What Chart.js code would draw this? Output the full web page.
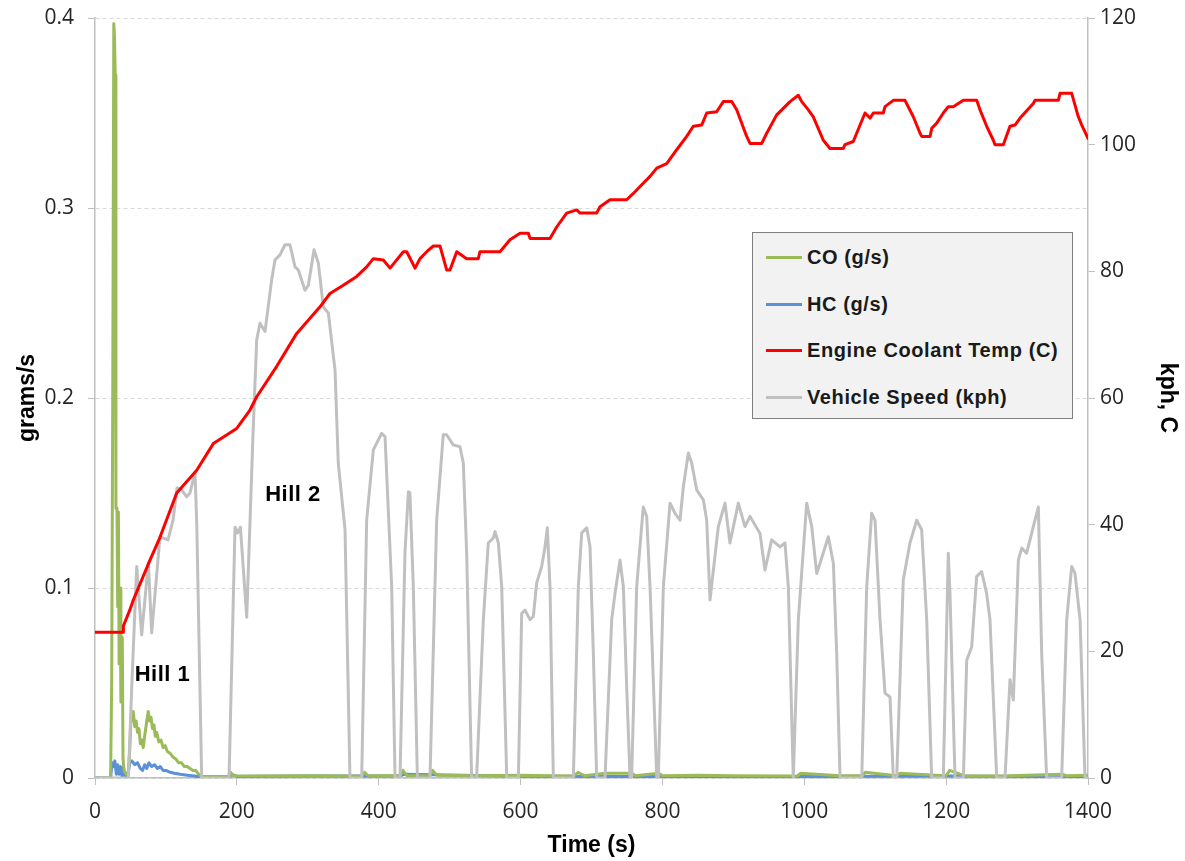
<!DOCTYPE html>
<html>
<head>
<meta charset="utf-8">
<script src="https://cdn.jsdelivr.net/npm/chart.js@4/dist/chart.umd.min.js"></script>
<style>
html,body{margin:0;padding:0;background:#fff;}
#wrap{position:relative;width:1185px;height:861px;}
#legend{position:absolute;left:752px;top:232px;width:321px;height:187px;background:#f2f2f2;border:1px solid #7f7f7f;box-sizing:border-box;font-family:"Liberation Sans",Arial,sans-serif;font-weight:bold;font-size:20px;letter-spacing:0.6px;color:#1a1a1a;}
.item{position:absolute;left:13px;height:22px;display:flex;align-items:center;}
.swatch{width:36px;height:3px;margin-right:5px;}
</style>
</head>
<body>
<div id="wrap">
<canvas id="c" width="1185" height="861"></canvas>
<div id="legend"></div>
</div>
<script>
// ---- Data ----
const seriesLabels = ["CO (g/s)", "HC (g/s)", "Engine Coolant Temp (C)", "Vehicle Speed (kph)"];
const xTicks = [0, 200, 400, 600, 800, 1000, 1200, 1400];
const yTicks = [0, 0.1, 0.2, 0.3, 0.4];
const y2Ticks = [0, 20, 40, 60, 80, 100, 120];

const coTime = [0,22,23.5,25,26.5,27.5,28.5,29.5,31,32,33,34,35.5,36.5,37.5,38.5,39.5,41,44,47,49,51,53,54,56,58,60,62,64,66,68,70,73,75,77,79,81,83,85,87,90,93,96,99,102,106,110,114,118,122,126,130,134,138,142,146,150,188,191,195,210,300,376,380,385,430,434,440,470,476,482,540,600,640,675,681,690,720,757,762,795,800,850,900,990,995,1050,1082,1086,1130,1135,1197,1200,1205,1225,1285,1290,1363,1370,1400];
const coVal  = [0,0,0.05,0.2,0.397,0.39,0.37,0.142,0.142,0.09,0.14,0.06,0.1,0.04,0.074,0.074,0.01,0.004,0.002,0.003,0.015,0.034,0.03,0.035,0.027,0.03,0.024,0.026,0.018,0.02,0.016,0.022,0.03,0.035,0.03,0.032,0.026,0.028,0.022,0.024,0.019,0.02,0.016,0.017,0.014,0.013,0.011,0.01,0.008,0.008,0.006,0.006,0.005,0.004,0.004,0.002,0.0008,0.0008,0.003,0.0012,0.001,0.0012,0.001,0.003,0.0012,0.0012,0.004,0.0012,0.0012,0.004,0.0015,0.0012,0.0015,0.0012,0.001,0.003,0.0012,0.0025,0.0025,0.0012,0.0025,0.0012,0.0015,0.0012,0.001,0.0025,0.0012,0.0012,0.003,0.0012,0.0025,0.0012,0.0012,0.004,0.0012,0.001,0.0012,0.002,0.0012,0.0015,0.001,0.0008];

const hcTime = [0,22,24,26,28,30,32,34,36,38,40,42,46,49,52,56,60,64,67,70,73,76,80,84,88,92,96,100,106,112,120,130,140,150,190,192,200,300,430,436,600,800,1000,1200,1400];
const hcVal  = [0,0,0.008,0.006,0.009,0.002,0.007,0.002,0.006,0.001,0.006,0.001,0.0005,0.008,0.009,0.007,0.008,0.005,0.004,0.007,0.005,0.008,0.006,0.007,0.005,0.006,0.004,0.004,0.003,0.0025,0.002,0.0015,0.001,0.0005,0.0005,0.002,0.0008,0.001,0.001,0.002,0.0009,0.0008,0.0008,0.001,0.0007];

const coolTime = [0,39.5,40,49,54,77.5,91.6,115.2,143.4,166.8,199.8,218.5,228,256.2,284.4,317.2,331.3,350,369,383,392.4,406.5,416,434.7,439.5,451.2,458.2,467.7,477,486.4,495.9,500.5,510,524,540.4,542.8,571,585.1,599.2,611,613.3,641.5,650.9,665,679.2,683.8,707.3,712,726.1,749.6,759,768.4,782.5,792,806,820.1,834.2,843.5,855.4,862.4,876.5,885.8,897.7,904.7,918.8,923.5,940,947,961.1,979.9,991.6,996.4,1005.7,1012.7,1026.8,1036.3,1055,1057.4,1069.1,1078.6,1085.6,1092.7,1097.3,1111.4,1113.8,1125.5,1142,1153.7,1163.2,1165.5,1177.3,1179.7,1186.7,1196,1203,1210.1,1224.2,1243.1,1247.8,1257.2,1266.5,1268.9,1280.6,1290,1297.1,1304.2,1322.9,1325.3,1358.2,1360.6,1377,1386.4,1391.2,1400];
const coolVal  = [23,23,24,26.5,28.1,34.4,38,45,48.6,52.8,55.2,58.1,60.2,65,70.2,74.4,76.5,77.8,79.2,80.7,82,81.8,80.5,83.1,83.1,80.5,82,83.1,84,84,80.2,80.2,83.1,82,82,83.1,83.1,85,86,86,85.2,85.2,87,89.2,89.7,89.2,89.2,90.2,91.3,91.3,92.3,93.4,95,96.3,97,99.2,101.3,102.9,103.1,105,105.2,106.8,106.8,105.5,101.3,100.2,100.2,101.8,104.7,106.8,107.8,106.8,105.5,104.4,100.7,99.4,99.4,100,100.5,103.1,105,104.2,105,105,106,107,107,104.4,101.8,101.3,101.3,102.6,103.4,105,106,106,107,107,105.5,102.9,100.7,100,100,102.9,103.1,104.2,106.5,107,107,108.1,108.1,104.4,103.1,101];

const speedTime = [0,47,52,58.8,65.8,75.2,79.9,91.6,102.9,110,115.6,122.2,129.3,133.9,141,143.5,150.4,
189,197.4,201,205,213.9,223,228,232.6,239.7,249,253.8,260.8,267.9,274.9,282,286.7,296,300.8,308.8,314.9,321.9,329,338.4,343,352.5,359.5,
376,383,392.4,404,408.9,418.3,423,
430,437,441.8,444,448.8,454.5,
472.3,481.7,491,495.8,505,514.6,519.3,524,531,
538,547.5,554.5,561.6,564,568.7,573.4,580.5,
596.9,601.6,606.3,613.3,618,622.7,629.8,634.5,637.7,641.5,646.2,
674.4,681.4,686.2,693.3,697.9,702.6,707.3,
719,728.5,733.2,740.2,744.9,749.6,754.3,
756.6,763.7,773,777.8,782.5,792,
794.2,801.3,810.7,817.7,824.8,829.5,836.5,841.3,848.3,857.7,862.4,867.1,871.8,878.8,888.2,895.2,907,916.4,923.5,937.6,944.6,954,965.8,972.8,977.5,984.5,
991.6,1003.4,1010.5,1017.5,1022.2,1033.9,1041,1045.7,1050.4,
1081,1088,1095,1099.7,1106.8,1113.8,1120.9,1125.5,
1130.3,1139.6,1149,1158.5,1165.5,1172.6,1179.6,
1196,1203,1205.4,1212.5,
1224.3,1229,1236,1243,1250,1257,1261.8,1271.3,
1283,1290,1294.7,1301.8,1306.5,1313.5,1322.9,1330,1334.7,1341.7,
1362.9,1370,1377,1381.7,1388.8,1395.8,1400];
const speedVal = [0,0,15,33.4,22.6,34,22.9,38.1,37.6,40.7,45.8,45.5,44.4,45,48.2,40,0,
0,39.6,38.7,39.6,25.4,55,69.2,71.8,70.5,78.6,81.8,82.6,84.2,84.2,80.7,80.2,77,77.8,83.4,81.3,74.4,73.4,64.4,49.7,39.2,0,
0,40.7,51.8,54.4,53.9,30.2,0,
0,35.5,45.2,45,30.2,0,
0,40.7,54.2,54.2,52.6,52.3,49.7,35.5,0,
0,25,37.1,37.9,38.9,37.1,30.2,0,
0,26,26.5,25,25.5,30.8,33.4,36.5,39.5,30.2,0,
0,30.2,38.7,39.5,36.5,19.7,0,
0,25,29.2,34.4,30.2,14.4,0,
0,30.2,42.8,41.3,30.2,0,
0,30.2,43.4,41.8,40.7,46,51.3,49.7,45.5,43.9,40.7,28.1,32.8,39.7,43.4,37.1,43.4,39.7,41.3,38.6,32.8,37.6,36.5,37.1,30.2,0,
25,43.4,39.7,32.3,33.9,38.1,33.9,19.7,0,
0,30.2,41.8,40.7,25,13.4,12.8,0,
0,31.3,37.1,40.7,39.2,25,0,
0,35.5,29.2,0,
0,18.6,20.7,31.8,32.6,29.2,25,0,
0,15.5,12.3,34.4,36.3,35.5,39.7,42.8,19.7,0,
0,25,33.4,32.3,25,0,0];

const hillNotes = [{text:"Hill 1", t:56, g:0.054}, {text:"Hill 2", t:240, g:0.149}];

// ---- Build ----
const pts = (xs, ys) => xs.map((x, i) => ({x: x, y: ys[i]}));
const colors = ["#9bbb59", "#5b8fd6", "#ff0000", "#c0c0c0"];

const hillPlugin = {
  id: "hills",
  afterDatasetsDraw(chart) {
    const ctx = chart.ctx, xs = chart.scales.x, ys = chart.scales.y;
    ctx.save();
    ctx.font = "bold 22px 'Liberation Sans', Arial, sans-serif";
    if ("letterSpacing" in ctx) ctx.letterSpacing = "0.5px";
    ctx.fillStyle = "#000";
    ctx.textBaseline = "middle";
    ctx.textAlign = "left";
    hillNotes.forEach(h => ctx.fillText(h.text, xs.getPixelForValue(h.t), ys.getPixelForValue(h.g)));
    ctx.restore();
  }
};

const tickFont = {family: "'Open Sans', sans-serif", size: 21};
const titleFont = {family: "'Liberation Sans', Arial, sans-serif", size: 23, weight: "bold"};
const fitV = w => s => { s.width = w; s.paddingTop = 0; s.paddingBottom = 0; };

new Chart(document.getElementById("c"), {
  type: "line",
  data: {
    datasets: [
      {label: seriesLabels[2], data: pts(coolTime, coolVal), yAxisID: "y2", borderColor: colors[2], borderWidth: 3, order: 0},
      {label: seriesLabels[3], data: pts(speedTime, speedVal), yAxisID: "y2", borderColor: colors[3], borderWidth: 3, order: 1},
      {label: seriesLabels[0], data: pts(coTime, coVal), yAxisID: "y", borderColor: colors[0], borderWidth: 3, order: 2},
      {label: seriesLabels[1], data: pts(hcTime, hcVal), yAxisID: "y", borderColor: colors[1], borderWidth: 3, order: 3}
    ]
  },
  options: {
    responsive: false,
    animation: false,
    parsing: false,
    normalized: true,
    elements: {point: {radius: 0}, line: {tension: 0, borderJoinStyle: "round", borderCapStyle: "round"}},
    layout: {padding: {top: 18, left: 0, right: 0, bottom: 0}},
    plugins: {legend: {display: false}, tooltip: {enabled: false}},
    scales: {
      x: {
        type: "linear", min: 0, max: 1400,
        afterBuildTicks: s => { s.ticks = xTicks.map(v => ({value: v})); },
        afterFit: s => { s.height = 83; s.paddingLeft = 0; s.paddingRight = 0; },
        grid: {drawOnChartArea: false, drawTicks: true, tickLength: 7, tickColor: "#bfbfbf", color: "#bfbfbf"},
        border: {color: "#bfbfbf", width: 1.5},
        ticks: {font: tickFont, color: "#262626", padding: 14, maxRotation: 0, callback: v => String(v)},
        title: {display: true, text: "Time (s)", font: titleFont, color: "#000", padding: {top: 0, bottom: 2}}
      },
      y: {
        position: "left", min: 0, max: 0.4,
        afterBuildTicks: s => { s.ticks = yTicks.map(v => ({value: v})); },
        afterFit: fitV(95),
        grid: {color: "#d9d9d9", tickColor: "#bfbfbf", tickLength: 7, tickBorderDash: []},
        border: {color: "#bfbfbf", width: 1.5, dash: [4, 3]},
        ticks: {font: tickFont, color: "#262626", padding: 14, callback: v => (v === 0 ? "0" : v.toFixed(1))},
        title: {display: true, text: "grams/s", font: titleFont, color: "#000", padding: {top: 14, bottom: 0}}
      },
      y2: {
        position: "right", min: 0, max: 120,
        afterBuildTicks: s => { s.ticks = y2Ticks.map(v => ({value: v})); },
        afterFit: fitV(97),
        grid: {drawOnChartArea: false, tickColor: "#bfbfbf", tickLength: 7},
        border: {color: "#bfbfbf", width: 1.5},
        ticks: {font: tickFont, color: "#262626", padding: 5, callback: v => String(v)},
        title: {display: true, text: "kph, C", font: titleFont, color: "#000", padding: {top: 4, bottom: 4}}
      }
    }
  },
  plugins: [hillPlugin]
});

// HTML legend (order as in reference)
const legend = document.getElementById("legend");
const rowTops = [13, 60, 106, 153];
[0, 1, 2, 3].forEach((i, k) => {
  const d = document.createElement("div");
  d.className = "item";
  d.style.top = rowTops[k] + "px";
  d.innerHTML = '<span class="swatch" style="background:' + colors[i] + '"></span><span>' + seriesLabels[i] + '</span>';
  legend.appendChild(d);
});
</script>
</body>
</html>
